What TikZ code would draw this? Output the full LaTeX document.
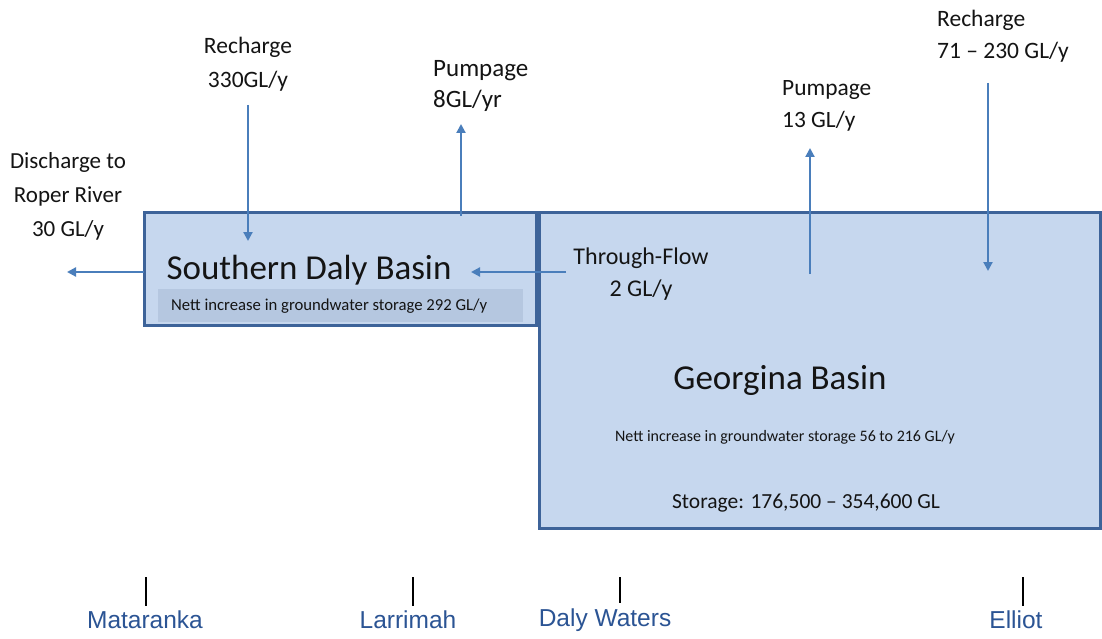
\documentclass[tikz,border=0pt]{standalone}
\usepackage{fontspec}
\setmainfont{Carlito}
\newfontfamily\arialfont{Liberation Sans}
\usetikzlibrary{arrows.meta}
\definecolor{boxfill}{HTML}{C6D7EE}
\definecolor{boxline}{HTML}{3D6399}
\definecolor{arr}{HTML}{4A7EBB}
\definecolor{subfill}{HTML}{B5C7E0}
\definecolor{townc}{HTML}{2B5494}
\definecolor{txt}{HTML}{141414}
\begin{document}
\begin{tikzpicture}[x=1pt,y=-1pt,
  basin/.style={draw=boxline,line width=3pt,fill=boxfill,inner sep=0pt,outer sep=0pt,anchor=north west},
  flow/.style={draw=arr,line width=2.1pt,-{Triangle[length=9pt,width=9pt]}},
  lbl/.style={text=txt,font=\fontsize{23.5}{34}\selectfont,inner sep=0pt},
  big/.style={text=txt,font=\fontsize{35}{38}\selectfont,inner sep=0pt},
  tickline/.style={draw=black,line width=1.2pt},
  town/.style={text=townc,font=\arialfont\fontsize{24.5}{26}\selectfont,inner sep=0pt}]
\useasboundingbox (0,0) rectangle (1102,639);
\fill[white] (0,0) rectangle (1102,639);
% basins
\node[basin,minimum width=392pt,minimum height=113pt] (sdb) at (144,212) {};
\node[basin,minimum width=561pt,minimum height=316pt] (geo) at (539,212) {};
\node[fill=subfill,inner sep=0pt,outer sep=0pt,minimum width=365pt,minimum height=33pt,anchor=north west] (sdbsub) at (158,289) {};
% basin texts
\node[big] (sdbname) at (309,270) {Southern Daly Basin};
\node[text=txt,font=\fontsize{16.7}{18}\selectfont,inner sep=0pt,anchor=west] (sdbnett) at (171,306) {Nett increase in groundwater storage 292 GL/y};
\node[big] (geoname) at (780,380) {Georgina Basin};
\node[text=txt,font=\fontsize{16}{18}\selectfont,inner sep=0pt] (geonett) at (785,437) {Nett increase in groundwater storage 56 to 216 GL/y};
\node[text=txt,font=\fontsize{21.5}{24}\selectfont,inner sep=0pt] (geostore) at (806,503) {Storage: 176,500 -- 354,600 GL};
% flow labels
\node[lbl,align=center] (rc1) at (248,64) {Recharge\\330GL/y};
\node[lbl,align=left,anchor=west,font=\fontsize{25}{31}\selectfont] (pump8) at (433,86) {Pumpage\\8GL/yr};
\node[lbl,align=center,font=\fontsize{23}{34}\selectfont] (dis) at (68,196) {Discharge to\\Roper River\\30 GL/y};
\node[lbl,align=center,font=\fontsize{24}{32}\selectfont] (thru) at (641,274) {Through-Flow\\2 GL/y};
\node[lbl,align=left,anchor=west,font=\fontsize{23.4}{32}\selectfont] (pump13) at (782,106) {Pumpage\\13 GL/y};
\node[lbl,align=left,anchor=west,font=\fontsize{23.5}{32}\selectfont] (rc2) at (937,36) {Recharge\\71 -- 230 GL/y};
% arrow ends
\coordinate (rc1s) at (248,105);
\coordinate (rc1e) at (248,241);
\coordinate (p8s) at (461,216);
\coordinate (p8e) at (461,124);
\coordinate (diss) at (144,272);
\coordinate (dise) at (67,272);
\coordinate (ths) at (566,272);
\coordinate (the) at (471,272);
\coordinate (p13s) at (810,274);
\coordinate (p13e) at (810,148);
\coordinate (rc2s) at (988,83);
\coordinate (rc2e) at (988,271);
\draw[flow] (rc1s) -- (rc1e);
\draw[flow] (p8s) -- (p8e);
\draw[flow] (diss) -- (dise);
\draw[flow] (ths) -- (the);
\draw[flow] (p13s) -- (p13e);
\draw[flow] (rc2s) -- (rc2e);
% towns
\node[town] (mat) at (145,620) {Mataranka};
\node[town] (lar) at (408,620) {Larrimah};
\node[town] (dal) at (605,620) {Daly Waters};
\node[town] (ell) at (1016,620) {Elliot};
\coordinate (tmat) at (146,577);
\coordinate (tlar) at (413,577);
\coordinate (tdal) at (620,577);
\coordinate (tell) at (1023,577);
\draw[tickline] (tmat) -- ([yshift=5pt]tmat |- mat.north);
\draw[tickline] (tlar) -- ([yshift=5pt]tlar |- lar.north);
\draw[tickline] (tdal) -- ([yshift=5pt]tdal |- dal.north);
\draw[tickline] (tell) -- ([yshift=5pt]tell |- ell.north);
\end{tikzpicture}
\end{document}
